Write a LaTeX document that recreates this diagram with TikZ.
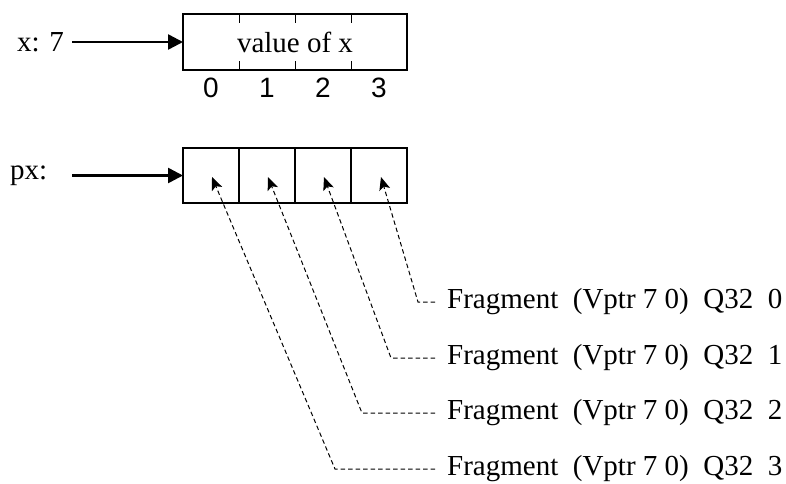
\documentclass[tikz,border=0pt]{standalone}
\usepackage{fontspec}
\setmainfont{Liberation Serif}
\newfontfamily\idxfont{Liberation Sans}
\usetikzlibrary{arrows.meta,positioning}
\tikzset{
	big/.style={font=\fontsize{29}{34}\selectfont},
	cell/.style={draw, line width=1.2pt, minimum width=56pt, minimum height=55pt, outer sep=0pt, inner sep=0pt},
	idx/.style={font=\idxfont\fontsize{28}{32}\selectfont, anchor=base, inner sep=0pt},
	frag/.style={big, anchor=west, inner xsep=12pt, inner ysep=0pt},
	refarrow/.style={line width=2.5pt, -{Triangle[length=15pt,width=15pt]}},
	ptr/.style={dashed, dash pattern=on 4.5pt off 3pt, line width=1pt, -{Stealth[length=13pt,width=11pt,inset=3pt]}}
}
\begin{document}
\begin{tikzpicture}[x=1pt,y=-1pt]
			\useasboundingbox (0,0) rectangle (786,483);
			%coordinates
			\coordinate (xfrom) at (72,42);
			\coordinate (pxfrom) at (72,175.5);
			\coordinate (k0) at (418,302);
			\coordinate (k1) at (391,358);
			\coordinate (k2) at (362,413);
			\coordinate (k3) at (335,469);
			%value box
			\node[big, draw, line width=1.2pt, minimum width=224pt, minimum height=56pt, outer sep=0pt] (valx) at (295,42) {value of x};
			\foreach \i in {1,2,3}{
				\draw[line width=1pt] ([xshift=\i*56pt]valx.north west) -- ++(0,9);
				\draw[line width=1pt] ([xshift=\i*56pt]valx.south west) -- ++(0,-9);
			}
			\node[idx] (i0) at (211,97) {0};
			\node[idx] (i1) at (267,97) {1};
			\node[idx] (i2) at (323,97) {2};
			\node[idx] (i3) at (379,97) {3};
			%pointer cells
			\node[cell] (c0) at (211,175.5) {};
			\node[cell, right=0pt of c0] (c1) {};
			\node[cell, right=0pt of c1] (c2) {};
			\node[cell, right=0pt of c2] (c3) {};
			%labels
			\node[big, anchor=west, inner sep=0pt] (xlab) at (17,42) {x: 7};
			\node[big, anchor=west, inner sep=0pt] (pxlab) at (10,175.5) {px:};
			\draw[refarrow] (xfrom) -- (valx.west);
			\draw[refarrow] (pxfrom) -- (c0.west);
			%fragments
			\node[frag] (f0) at (435,302) {Fragment\ \ (Vptr 7 0)\ \ Q32\ \ 0};
			\node[frag] (f1) at (435,358) {Fragment\ \ (Vptr 7 0)\ \ Q32\ \ 1};
			\node[frag] (f2) at (435,413) {Fragment\ \ (Vptr 7 0)\ \ Q32\ \ 2};
			\node[frag] (f3) at (435,469) {Fragment\ \ (Vptr 7 0)\ \ Q32\ \ 3};
			\draw[ptr] (f0.west) -- (k0) -- ([shift={(2,1.5)}]c3.center);
			\draw[ptr] (f1.west) -- (k1) -- ([shift={(1,1.5)}]c2.center);
			\draw[ptr] (f2.west) -- (k2) -- ([shift={(1,1.5)}]c1.center);
			\draw[ptr] (f3.west) -- (k3) -- ([shift={(1,1.5)}]c0.center);
		\end{tikzpicture}
\end{document}
